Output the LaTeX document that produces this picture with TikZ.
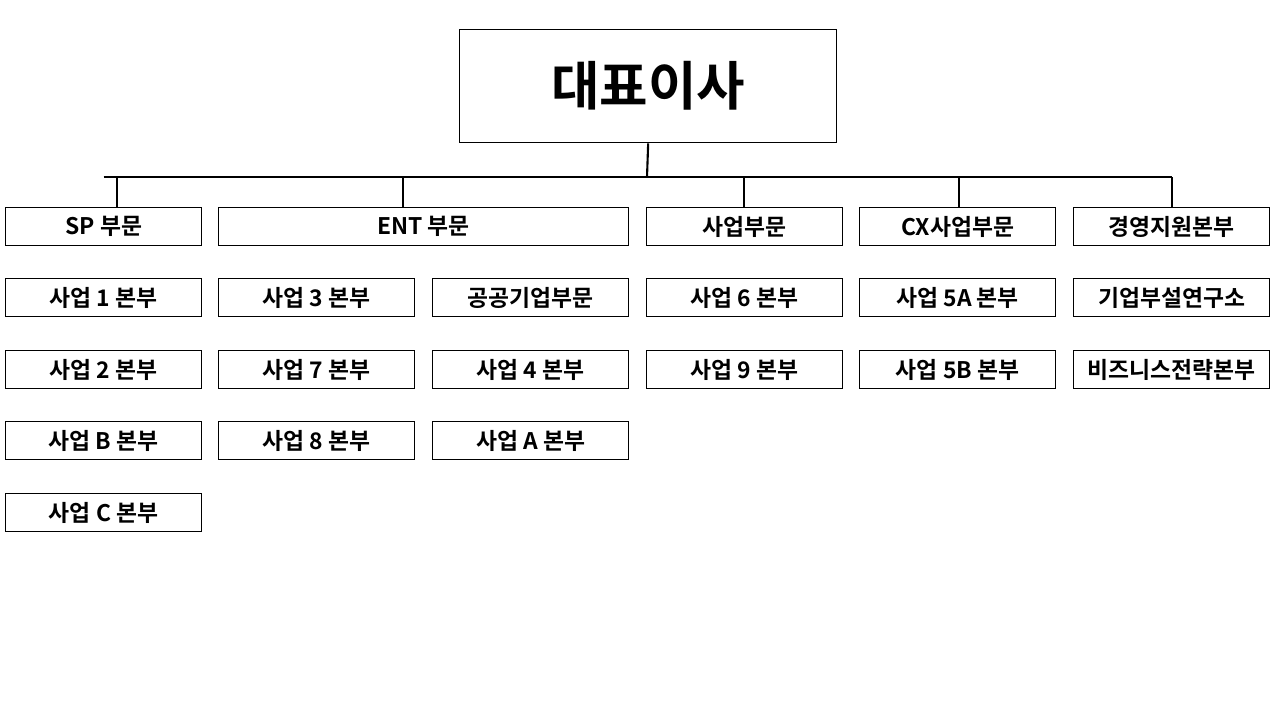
\documentclass[tikz,border=0pt]{standalone}
\usepackage{fontspec}
\setmainfont{Noto Sans CJK KR}[BoldFont={* Bold}]
\usetikzlibrary{positioning}
\tikzset{
  unit/.style={draw=black, thick, fill=white, anchor=north west, inner sep=0pt,
    minimum width=3.92cm, minimum height=0.76cm, font=\bfseries\fontsize{13}{13}\selectfont},
  wide/.style={unit, minimum width=8.2cm},
  link/.style={black, very thick}
}
\begin{document}
\begin{tikzpicture}[x=0.02cm,y=-0.02cm]
\useasboundingbox (0,0) rectangle (1280,720);
% top
\node[draw, thick, anchor=north west, minimum width=7.54cm, minimum height=2.26cm,
  font=\bfseries\fontsize{30}{30}\selectfont] (ceo) at (459,29) {대표이사};
% divisions
\node[unit] (sp) at (5,207) {SP 부문};
\node[wide] (ent) at (218,207) {ENT 부문};
\node[unit] (biz) at (646,207) {사업부문};
\node[unit] (cx) at (859,207) {CX사업부문};
\node[unit] (mgmt) at (1073,207) {경영지원본부};
% units
\node[unit] (b1) at (5,278) {사업 1 본부};
\node[unit] (b2) at (5,350) {사업 2 본부};
\node[unit] (bB) at (5,421) {사업 B 본부};
\node[unit] (bC) at (5,493) {사업 C 본부};
\node[unit] (b3) at (218,278) {사업 3 본부};
\node[unit] (b7) at (218,350) {사업 7 본부};
\node[unit] (b8) at (218,421) {사업 8 본부};
\node[unit] (pub) at (432,278) {공공기업부문};
\node[unit] (b4) at (432,350) {사업 4 본부};
\node[unit] (bA) at (432,421) {사업 A 본부};
\node[unit] (b6) at (646,278) {사업 6 본부};
\node[unit] (b9) at (646,350) {사업 9 본부};
\node[unit] (b5A) at (859,278) {사업 5A 본부};
\node[unit] (b5B) at (859,350) {사업 5B 본부};
\node[unit] (lab) at (1073,278) {기업부설연구소};
\node[unit] (strat) at (1073,350) {비즈니스전략본부};
% tree
\coordinate (bus) at (647,177);
\draw[link] (ceo.south) -- (bus);
\draw[link] (sp.north |- bus) -- (mgmt.north |- bus);
\foreach \n/\x in {sp/117, ent/403, biz/744, cx/959, mgmt/1172}
  \draw[link] (\x,177) -- (\n.north -| {(\x,0)});
\end{tikzpicture}
\end{document}
